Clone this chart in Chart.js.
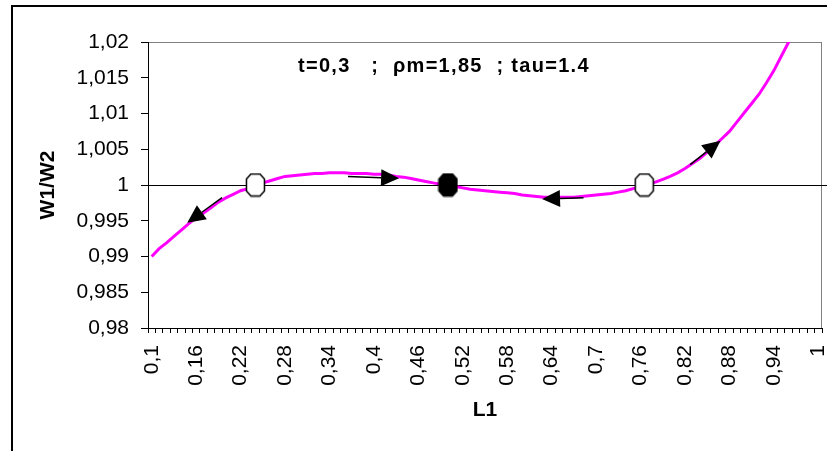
<!DOCTYPE html>
<html>
<head>
<meta charset="utf-8">
<script src="https://cdn.jsdelivr.net/npm/chart.js@4.4.1/dist/chart.umd.min.js"></script>
<style>
  html, body { margin: 0; padding: 0; background: #fff; }
  canvas { display: block; }
</style>
</head>
<body>
<canvas id="grafica" width="827" height="451"></canvas>
<script>
const FUENTE = "'Liberation Sans', Arial, sans-serif";

// L1 (eje x)
const L1 = [
  0.10, 0.11, 0.12, 0.13, 0.14, 0.15, 0.16, 0.17, 0.18, 0.19,
  0.20, 0.21, 0.22, 0.23, 0.24, 0.25, 0.26, 0.27, 0.28, 0.29,
  0.30, 0.31, 0.32, 0.33, 0.34, 0.35, 0.36, 0.37, 0.38, 0.39,
  0.40, 0.41, 0.42, 0.43, 0.44, 0.45, 0.46, 0.47, 0.48, 0.49,
  0.50, 0.51, 0.52, 0.53, 0.54, 0.55, 0.56, 0.57, 0.58, 0.59,
  0.60, 0.61, 0.62, 0.63, 0.64, 0.65, 0.66, 0.67, 0.68, 0.69,
  0.70, 0.71, 0.72, 0.73, 0.74, 0.75, 0.76, 0.77, 0.78, 0.79,
  0.80, 0.81, 0.82, 0.83, 0.84, 0.85, 0.86, 0.87, 0.88, 0.89,
  0.90, 0.91, 0.92, 0.93, 0.94, 0.95, 0.96, 0.97, 0.98, 0.99,
  1.00
];

// W1/W2
const W1W2 = [
  0.9900, 0.9911, 0.9919, 0.9928, 0.9937, 0.9946, 0.9954, 0.9961, 0.9968, 0.9976,
  0.9982, 0.9987, 0.9992, 0.9995, 0.9999, 1.0003, 1.0006, 1.0009, 1.0012, 1.0013,
  1.0014, 1.0015, 1.0016, 1.0016, 1.0017, 1.0017, 1.0017, 1.0016, 1.0016, 1.0016,
  1.0015, 1.0015, 1.0014, 1.0012, 1.0011, 1.0009, 1.0007, 1.0005, 1.0003, 1.0001,
  1.0000, 0.9998, 0.9996, 0.9994, 0.9993, 0.9992, 0.9991, 0.9990, 0.9989, 0.9988,
  0.9986, 0.9985, 0.9984, 0.9983, 0.9983, 0.9983, 0.9983, 0.9983, 0.9984, 0.9985,
  0.9986, 0.9987, 0.9988, 0.9990, 0.9992, 0.9995, 0.9998, 1.0001, 1.0004, 1.0008,
  1.0012, 1.0017, 1.0023, 1.0030, 1.0037, 1.0046, 1.0055, 1.0065, 1.0075, 1.0088,
  1.0101, 1.0114, 1.0127, 1.0143, 1.0160, 1.0180, 1.0200, 1.0222, 1.0245, 1.0270,
  1.0295
];

const etiquetasVisibles = ["0,1", "0,16", "0,22", "0,28", "0,34", "0,4", "0,46", "0,52",
  "0,58", "0,64", "0,7", "0,76", "0,82", "0,88", "0,94", "1"];

const yMin = 0.98;
const yMax = 1.02;
const yPaso = 0.005;
const nivelRef = 1;

// puntos de equilibrio
const equilibrioL = [0.24, 0.50, 0.765];
const equilibrioW = [1, 1, 1];
const equilibrioRelleno = [false, true, false];

// flechas
const flechaDesdeL = [0.195, 0.365, 0.683, 0.827];
const flechaDesdeW = [0.99822, 1.00118, 0.99822, 1.00285];
const flechaHastaL = [0.148, 0.434, 0.627, 0.868];
const flechaHastaW = [0.99472, 1.00093, 0.99804, 1.00619];

const nota = "t=0,3   ;  \u03c1m=1,85  ; tau=1.4";

function octogono(relleno) {
  const c = document.createElement("canvas");
  c.width = 21;
  c.height = 25;
  const g = c.getContext("2d");
  g.beginPath();
  g.moveTo(6, 1.5); g.lineTo(15, 1.5); g.lineTo(19.5, 6.5); g.lineTo(19.5, 18.5);
  g.lineTo(15, 23.5); g.lineTo(6, 23.5); g.lineTo(1.5, 18.5); g.lineTo(1.5, 6.5);
  g.closePath();
  g.fillStyle = relleno ? "#000" : "#fff";
  g.fill();
  g.lineWidth = 1.5;
  g.strokeStyle = "#000";
  g.stroke();
  return c;
}

const decoracion = {
  id: "decoracion",
  beforeDraw(chart) {
    const ctx = chart.ctx;
    const a = chart.chartArea;
    ctx.save();
    ctx.fillStyle = "#fff";
    ctx.fillRect(0, 0, chart.width, chart.height);
    ctx.strokeStyle = "#000";
    ctx.lineWidth = 2;
    ctx.strokeRect(12, 6, chart.width + 20, chart.height + 20);
    ctx.strokeStyle = "#808080";
    ctx.lineWidth = 1;
    ctx.strokeRect(a.left + 0.5, a.top + 0.5, a.right - a.left - 1, a.bottom - a.top);
    ctx.restore();
  },
  beforeDatasetsDraw(chart) {
    const ctx = chart.ctx;
    const y = Math.round(chart.scales.y.getPixelForValue(nivelRef)) + 0.5;
    ctx.save();
    ctx.strokeStyle = "#000";
    ctx.lineWidth = 1;
    ctx.beginPath();
    ctx.moveTo(chart.chartArea.left, y);
    ctx.lineTo(chart.width, y);
    ctx.stroke();
    ctx.restore();
  },
  afterDatasetsDraw(chart) {
    const ctx = chart.ctx;
    const sx = chart.scales.x2;
    const sy = chart.scales.y;
    ctx.save();
    ctx.strokeStyle = "#000";
    ctx.fillStyle = "#000";
    ctx.lineWidth = 1.5;
    for (let i = 0; i < flechaDesdeL.length; i++) {
      const x0 = sx.getPixelForValue(flechaDesdeL[i]);
      const y0 = sy.getPixelForValue(flechaDesdeW[i]);
      const x1 = sx.getPixelForValue(flechaHastaL[i]);
      const y1 = sy.getPixelForValue(flechaHastaW[i]);
      const len = Math.hypot(x1 - x0, y1 - y0);
      const ux = (x1 - x0) / len, uy = (y1 - y0) / len;
      const largo = 18, ancho = 8.5;
      const bx = x1 - ux * largo, by = y1 - uy * largo;
      ctx.beginPath();
      ctx.moveTo(x0, y0);
      ctx.lineTo(bx, by);
      ctx.stroke();
      ctx.beginPath();
      ctx.moveTo(x1, y1);
      ctx.lineTo(bx - uy * ancho, by + ux * ancho);
      ctx.lineTo(bx + uy * ancho, by - ux * ancho);
      ctx.closePath();
      ctx.fill();
    }
    ctx.font = "bold 20px " + FUENTE;
    ctx.letterSpacing = "1.3px";
    ctx.textBaseline = "alphabetic";
    ctx.fillText(nota, 298, 72);
    ctx.restore();
  }
};

const ctx = document.getElementById("grafica");

new Chart(ctx, {
  type: "line",
  data: {
    labels: L1.map(v => String(v).replace(".", ",")),
    datasets: [
      {
        type: "scatter",
        data: equilibrioL.map((l, i) => ({ x: l, y: equilibrioW[i] })),
        xAxisID: "x2",
        pointStyle: equilibrioRelleno.map(r => octogono(r)),
        order: 0
      },
      {
        data: W1W2,
        xAxisID: "x",
        borderColor: "#FF00FF",
        borderWidth: 3,
        pointRadius: 0,
        tension: 0,
        fill: false,
        order: 1
      }
    ]
  },
  options: {
    responsive: false,
    animation: false,
    events: [],
    layout: { padding: { left: 12, top: 42, right: 5, bottom: 0 } },
    plugins: {
      legend: { display: false },
      tooltip: { enabled: false }
    },
    scales: {
      x: {
        type: "category",
        offset: true,
        grid: { offset: true, drawOnChartArea: false, tickLength: 5, color: "#000" },
        border: { color: "#000", width: 1 },
        ticks: {
          autoSkip: false,
          maxRotation: 90,
          minRotation: 90,
          padding: 12,
          color: "#000",
          font: { family: FUENTE, size: 21 },
          callback(value) {
            const lab = this.getLabelForValue(value);
            return etiquetasVisibles.includes(lab) ? lab : "";
          }
        },
        title: {
          display: true,
          text: "L1",
          color: "#000",
          font: { family: FUENTE, size: 21, weight: "bold" },
          padding: { top: 0, bottom: 28 }
        },
        afterFit(scale) {
          scale.height = 123;
          scale.paddingLeft = 0;
          scale.paddingRight = 0;
        }
      },
      x2: { type: "linear", display: false, min: 0.095, max: 1.005 },
      y: {
        min: yMin,
        max: yMax,
        grid: { drawOnChartArea: false, tickLength: 7, color: "#000" },
        border: { color: "#000", width: 1 },
        ticks: {
          stepSize: yPaso,
          padding: 12,
          color: "#000",
          font: { family: FUENTE, size: 21 },
          callback: v => Number(v.toFixed(3)).toString().replace(".", ",")
        },
        title: {
          display: true,
          text: "W1/W2",
          color: "#000",
          font: { family: FUENTE, size: 21, weight: "bold" },
          padding: { top: 24, bottom: 0 }
        },
        afterFit(scale) {
          scale.width = 136;
          scale.paddingTop = 0;
          scale.paddingBottom = 0;
        }
      }
    }
  },
  plugins: [decoracion]
});
</script>
</body>
</html>
